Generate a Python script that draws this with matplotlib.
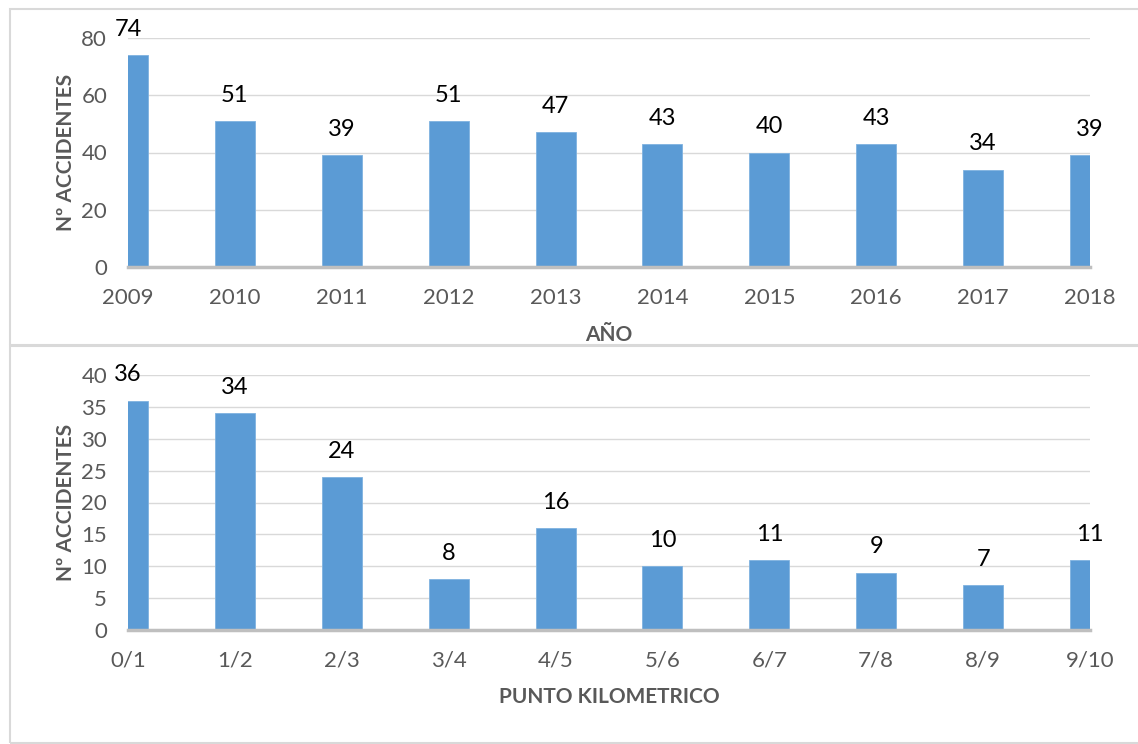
import matplotlib
matplotlib.use('Agg')
import matplotlib.pyplot as plt
from matplotlib.patches import Rectangle

plt.rcParams['font.family'] = ['Lato', 'DejaVu Sans']

# datos
anios = ['2009', '2010', '2011', '2012', '2013', '2014', '2015', '2016', '2017', '2018']
acc_anio = [74, 51, 39, 51, 47, 43, 40, 43, 34, 39]
pk = ['0/1', '1/2', '2/3', '3/4', '4/5', '5/6', '6/7', '7/8', '8/9', '9/10']
acc_pk = [36, 34, 24, 8, 16, 10, 11, 9, 7, 11]

azul = '#5b9bd5'
gris_txt = '#595959'
W, H = 1138, 744

fig = plt.figure(figsize=(W / 100, H / 100), dpi=100)

# marcos de cada grafico
fig.patches.append(Rectangle((10 / W, 1 - 345 / H), 1.2, (345 - 9) / H, transform=fig.transFigure,
                             fill=False, edgecolor='#d9d9d9', lw=1.5))
fig.patches.append(Rectangle((10 / W, 1 - 743 / H), 1.2, (743 - 346) / H, transform=fig.transFigure,
                             fill=False, edgecolor='#d9d9d9', lw=1.5))

ax1 = fig.add_axes([128 / W, 1 - 267 / H, (1090 - 128) / W, (267 - 38) / H])
ax2 = fig.add_axes([128 / W, 1 - 630 / H, (1090 - 128) / W, (630 - 375) / H])


def dibuja(ax, cats, vals, ymax, paso, xlab, xlab_y):
    x = range(len(cats))
    ax.bar(x, vals, width=0.375, color=azul, edgecolor='#7fb2e0', lw=0.6, zorder=3)
    ax.set_xlim(0, len(cats) - 1)
    ax.set_ylim(0, ymax)
    ax.set_yticks(range(0, ymax + 1, paso))
    ax.set_xticks(list(x))
    ax.set_xticklabels(cats)
    ax.tick_params(axis='both', length=0, labelsize=16, labelcolor=gris_txt)
    ax.tick_params(axis='x', pad=15)
    ax.tick_params(axis='y', pad=15)
    ax.grid(axis='y', color='#d9d9d9', lw=1, zorder=0)
    for s in ['top', 'right', 'left']:
        ax.spines[s].set_visible(False)
    ax.spines['bottom'].set_color('#bfbfbf')
    ax.spines['bottom'].set_linewidth(2.5)
    ax.spines['bottom'].set_zorder(4)
    for i, v in zip(x, vals):
        ax.annotate(str(v), (i, v), xytext=(0, 11), textcoords='offset points',
                    ha='center', va='bottom', fontsize=17, color='black',
                    annotation_clip=False)
    ax.set_ylabel('Nº ACCIDENTES', fontsize=15, fontweight='bold', color=gris_txt)
    ax.yaxis.set_label_coords(-0.054, 0.5)
    ax.set_xlabel(xlab, fontsize=15, fontweight='bold', color=gris_txt)
    ax.xaxis.label.set_va('center')
    ax.xaxis.set_label_coords(0.5, xlab_y)


dibuja(ax1, anios, acc_anio, 80, 20, 'AÑO', -0.297)
dibuja(ax2, pk, acc_pk, 40, 5, 'PUNTO KILOMETRICO', -0.263)

fig.savefig('out.png', dpi=100)
